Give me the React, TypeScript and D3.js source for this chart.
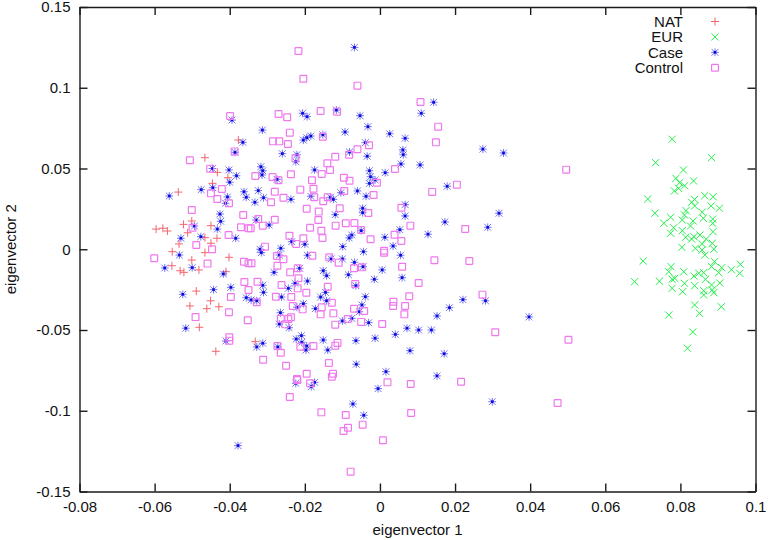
import { useEffect, useRef } from 'react';
import * as d3 from 'd3';

const xTicks = [-0.08, -0.06, -0.04, -0.02, 0, 0.02, 0.04, 0.06, 0.08, 0.1];
const yTicks = [-0.15, -0.1, -0.05, 0, 0.05, 0.1, 0.15];
const legendLabels = ['NAT', 'EUR', 'Case', 'Control'];

// [eigenvector 1, eigenvector 2]
const natPoints = [
  [-0.0466, 0.0567], [-0.0433, 0.0476], [-0.0405, 0.0443], [-0.0446, 0.0408], [-0.0537, 0.0354],
  [-0.0596, 0.0125], [-0.0578, 0.013], [-0.0566, 0.0113], [-0.0523, 0.0154], [-0.0501, 0.0175],
  [-0.0512, 0.0102], [-0.045, 0.0146], [-0.0466, 0.0072], [-0.0434, 0.0068], [-0.045, 0.0037],
  [-0.0535, 0.0033], [-0.0377, 0.0676], [-0.0553, -0.0015], [-0.0466, -0.0021], [-0.0402, -0.005],
  [-0.0501, -0.0067], [-0.0554, -0.0102], [-0.0532, -0.0133], [-0.0522, -0.0143], [-0.0482, -0.0128],
  [-0.041, -0.0139], [-0.0489, -0.0259], [-0.0451, -0.0319], [-0.0506, -0.0351], [-0.0461, -0.0368],
  [-0.0429, -0.0356], [-0.0481, -0.0483], [-0.0437, -0.0632], [-0.0332, -0.0572],
];

const eurPoints = [
  [0.0778, 0.0681], [0.0883, 0.0567], [0.0734, 0.0536], [0.0808, 0.0491], [0.0788, 0.0439],
  [0.0835, 0.0423], [0.0798, 0.0412], [0.0811, 0.0393], [0.0795, 0.0377], [0.0784, 0.0361],
  [0.0713, 0.0311], [0.0865, 0.0332], [0.0887, 0.0325], [0.0838, 0.0309], [0.083, 0.0291],
  [0.0838, 0.0268], [0.0882, 0.0268], [0.0904, 0.0254], [0.0732, 0.0223], [0.0815, 0.0239],
  [0.0858, 0.0229], [0.0811, 0.0212], [0.0774, 0.0198], [0.0805, 0.0181], [0.0861, 0.0192],
  [0.0886, 0.0187], [0.0834, 0.0175], [0.0756, 0.0161], [0.0827, 0.0144], [0.0886, 0.0161],
  [0.0782, 0.0133], [0.0805, 0.0115], [0.0774, 0.0099], [0.0887, 0.0109], [0.0852, 0.0088],
  [0.0836, 0.0078], [0.0814, 0.0074], [0.083, 0.0063], [0.0869, 0.0063], [0.0885, 0.0037],
  [0.0858, 0.0033], [0.0804, 0.0012], [0.084, 0.0006], [0.0889, 0], [0.0858, -0.0005],
  [0.0865, -0.0036], [0.0701, -0.0073], [0.0891, -0.0077], [0.0883, -0.0108], [0.0775, -0.0108],
  [0.091, -0.0114], [0.0936, -0.0127], [0.096, -0.0093], [0.0958, -0.0149], [0.0769, -0.0139],
  [0.0809, -0.0139], [0.0902, -0.0145], [0.0862, -0.0145], [0.0849, -0.0149], [0.0836, -0.0166],
  [0.0778, -0.0186], [0.0867, -0.0186], [0.0785, -0.018], [0.0678, -0.0201], [0.0744, -0.0198],
  [0.0811, -0.0211], [0.0905, -0.0209], [0.0838, -0.0226], [0.0883, -0.0221], [0.0778, -0.0242],
  [0.0885, -0.0252], [0.0806, -0.0263], [0.0862, -0.0257], [0.0889, -0.0269], [0.0862, -0.0283],
  [0.0838, -0.0345], [0.0909, -0.0356], [0.0851, -0.0397], [0.0769, -0.0407], [0.0833, -0.0512],
  [0.0819, -0.0613],
];

const casePoints = [
  [-0.0394, 0.08], [-0.0365, 0.0662], [-0.0386, 0.06], [-0.0446, 0.05], [-0.0402, 0.0491],
  [-0.0382, 0.0455], [-0.04, 0.0415], [-0.0476, 0.0369], [-0.0445, 0.0381], [-0.0561, 0.033],
  [-0.0406, 0.0324], [-0.0411, 0.0285], [-0.0362, 0.0356], [-0.0356, 0.0322], [-0.0426, 0.0218],
  [-0.0424, 0.0173], [-0.0433, 0.0125], [-0.0494, 0.0144], [-0.053, 0.0068], [-0.0477, 0.0078],
  [-0.0384, 0.0068], [-0.0534, -0.0036], [-0.0573, -0.0116], [-0.05, -0.0114], [-0.0417, -0.0153],
  [-0.0443, -0.025], [-0.0397, -0.0236], [-0.0525, -0.0279], [-0.0356, -0.03], [-0.0517, -0.0489],
  [-0.041, -0.0568], [-0.0313, 0.0738], [-0.0032, 0.0759], [0.0026, 0.0715], [0.0067, 0.0687],
  [-0.0093, 0.0726], [-0.0152, 0.0709], [-0.0184, 0.0701], [-0.0195, 0.0691], [-0.0204, 0.0676],
  [-0.0039, 0.066], [-0.026, 0.0592], [-0.0081, 0.0602], [-0.0034, 0.0576], [-0.0221, 0.0585],
  [-0.0224, 0.0542], [0.0061, 0.0615], [0.0062, 0.0585], [0.0056, 0.0528], [-0.0317, 0.0511],
  [-0.0312, 0.0486], [-0.0314, 0.046], [-0.0174, 0.0491], [-0.0028, 0.0486], [-0.0025, 0.0449],
  [0.0014, 0.0474], [-0.0013, 0.0429], [-0.0028, 0.0408], [-0.0274, 0.0433], [-0.0324, 0.0363],
  [-0.031, 0.0319], [-0.0333, 0.0291], [-0.0237, 0.0309], [-0.0184, 0.0328], [-0.006, 0.0361],
  [-0.0037, 0.0328], [-0.0104, 0.035], [-0.0132, 0.0322], [-0.0124, 0.0309], [0.0067, 0.0276],
  [0.0067, 0.0206], [-0.0046, 0.0254], [-0.0046, 0.0226], [-0.0119, 0.0214], [-0.033, 0.0181],
  [-0.0295, 0.015], [-0.005, 0.0115], [0.0053, 0.0121], [-0.0075, 0.0088], [-0.0082, 0.007],
  [0.0013, 0.0074], [-0.0235, 0.0047], [-0.02, 0.0031], [0.0035, 0.002], [-0.0099, 0.0016],
  [-0.0264, 0.0006], [-0.0319, 0], [0.0107, 0.0522], [-0.0316, -0.0021], [-0.0268, -0.0036],
  [-0.0193, -0.0037], [-0.013, -0.006], [-0.01, -0.006], [-0.0044, -0.0015], [-0.0068, -0.0081],
  [-0.0045, -0.0108], [0.0055, -0.0037], [-0.0151, -0.0133], [-0.0142, -0.0164], [-0.0084, -0.0158],
  [-0.0282, -0.0143], [-0.0214, -0.0118], [0.0006, -0.0128], [-0.0015, -0.0186], [0.0059, -0.0176],
  [-0.0193, -0.0197], [-0.0226, -0.0211], [-0.0244, -0.0242], [-0.0312, -0.0223], [-0.031, -0.0267],
  [-0.0064, -0.0226], [-0.0145, -0.0267], [-0.0262, -0.0296], [-0.0158, -0.0296], [-0.0142, -0.0319],
  [-0.0039, -0.0294], [-0.0048, -0.0345], [-0.0055, -0.0387], [-0.0075, -0.0428], [-0.01, -0.0444],
  [-0.003, -0.0455], [-0.0172, -0.0368], [-0.0204, -0.0337], [-0.0221, -0.0359], [-0.0328, -0.0319],
  [-0.0343, -0.0314], [-0.0265, -0.0393], [-0.0268, -0.0463], [-0.0242, -0.0486], [-0.0209, -0.0535],
  [-0.0223, -0.0556], [-0.0208, -0.0576], [-0.0195, -0.0599], [-0.0197, -0.0624], [-0.0151, -0.0562],
  [-0.0139, -0.0624], [-0.0064, -0.0566], [-0.0013, -0.0551], [0.0041, -0.0527], [0.0072, -0.0489],
  [0.0103, -0.05], [0.008, -0.0628], [-0.0328, -0.0605], [-0.0312, -0.0582], [-0.0272, -0.0605],
  [-0.0063, -0.0712], [0.0016, -0.0758], [-0.0224, -0.083], [-0.0174, -0.0824], [-0.0183, -0.0851],
  [-0.0005, -0.0863], [-0.0072, -0.0958], [-0.0043, -0.1028], [-0.0378, -0.1216], [0.0152, -0.0784],
  [-0.0068, 0.125], [0.0143, 0.091], [0.011, 0.0842], [-0.0206, 0.0842], [-0.0194, 0.0821],
  [-0.0116, 0.0862], [-0.0053, 0.0827], [0.0274, 0.062], [0.0329, 0.0596], [0.0179, 0.039],
  [0.0317, 0.0223], [0.0173, 0.0169], [0.0287, 0.0136], [0.0128, 0.0093], [0.0221, -0.0312],
  [0.0185, -0.0362], [0.0152, -0.0413], [0.0281, -0.0319], [0.0397, -0.0419], [0.0137, -0.05],
  [0.0171, -0.0647], [0.0299, -0.0944],
];

const controlPoints = [
  [-0.0506, 0.0551], [-0.0452, 0.0499], [-0.0387, 0.0606], [-0.0399, 0.0825], [-0.0421, 0.0373],
  [-0.045, 0.0346], [-0.0433, 0.0311], [-0.0402, 0.0285], [-0.0501, 0.0243], [-0.0364, 0.0212],
  [-0.037, 0.0136], [-0.035, 0.013], [-0.0499, 0.0133], [-0.0403, 0.0088], [-0.0489, 0.0026],
  [-0.0447, 0], [-0.0601, -0.0056], [-0.0459, -0.0089], [-0.0362, -0.0077], [-0.035, -0.0087],
  [-0.0361, -0.0203], [-0.035, -0.0252], [-0.0397, -0.0296], [-0.0402, -0.039], [-0.0491, -0.042],
  [-0.0352, -0.044], [-0.0401, -0.0545], [-0.0401, -0.0566], [-0.024, 0.0722], [-0.0285, 0.0668],
  [-0.0268, 0.0668], [-0.0245, 0.0652], [-0.0152, 0.0697], [-0.0029, 0.0644], [-0.006, 0.0619],
  [-0.0082, 0.0585], [-0.0119, 0.0573], [-0.014, 0.0532], [-0.0133, 0.0491], [-0.0155, 0.0466],
  [-0.0225, 0.0563], [-0.0237, 0.0464], [-0.0332, 0.0454], [-0.0286, 0.0447], [-0.027, 0.0427],
  [-0.0181, 0.0427], [-0.0096, 0.0443], [-0.0081, 0.0424], [0.004, 0.0497], [-0.0008, 0.0412],
  [-0.0212, 0.0369], [-0.0177, 0.0375], [-0.028, 0.0356], [-0.0095, 0.0361], [-0.0017, 0.0336],
  [-0.0257, 0.0319], [-0.0175, 0.0322], [-0.029, 0.0291], [-0.0151, 0.0297], [-0.0139, 0.0322],
  [-0.0107, 0.0254], [-0.0195, 0.0251], [-0.0163, 0.0233], [-0.0031, 0.0224], [0.0057, 0.0257],
  [-0.0164, 0.0181], [-0.028, 0.0183], [-0.0324, 0.0187], [-0.0312, 0.0146], [-0.0344, 0.013],
  [-0.0091, 0.0161], [-0.0068, 0.0163], [-0.0118, 0.0146], [0.0081, 0.0146], [-0.0186, 0.0133],
  [-0.0156, 0.0115], [-0.0153, 0.007], [-0.005, 0.0119], [-0.0025, 0.0062], [0.0039, 0.009],
  [0.0057, 0.0051], [-0.0241, 0.0084], [-0.0204, 0.0068], [-0.0223, 0.0033], [-0.0306, 0.0016],
  [0.0011, -0.0009], [-0.0274, -0.0042], [-0.0257, -0.0062], [-0.0273, -0.0102], [-0.018, -0.004],
  [-0.0135, -0.005], [-0.011, -0.0083], [0.0011, -0.0021], [0.0059, -0.0108], [-0.0069, -0.0118],
  [-0.0048, -0.0112], [-0.0219, -0.0118], [-0.0239, -0.0143], [-0.0217, -0.018], [-0.0342, -0.0087],
  [0.0103, -0.0209], [-0.0066, -0.0215], [-0.0139, -0.0232], [-0.0262, -0.0221], [-0.0219, -0.0242],
  [-0.0196, -0.0269], [-0.0326, -0.0201], [-0.0277, -0.0294], [-0.0236, -0.0296], [0.0078, -0.0291],
  [-0.0328, -0.0328], [-0.0232, -0.0351], [-0.0206, -0.0372], [-0.0128, -0.0331], [-0.0155, -0.0359],
  [-0.0158, -0.0403], [-0.0124, -0.0397], [-0.0069, -0.0368], [-0.0042, -0.0382], [0.0036, -0.0325],
  [0.0035, -0.0351], [0.0067, -0.0351], [0.0065, -0.0403], [-0.0237, -0.0421], [-0.0264, -0.043],
  [-0.0244, -0.0432], [-0.0252, -0.0465], [-0.0086, -0.0432], [-0.0119, -0.0467], [-0.005, -0.045],
  [0.0006, -0.0463], [-0.0273, -0.0599], [-0.0264, -0.0641], [-0.0212, -0.0603], [-0.0177, -0.0599],
  [-0.0113, -0.058], [-0.0119, -0.0597], [-0.0311, -0.0684], [-0.025, -0.0721], [-0.0136, -0.0704],
  [-0.0195, -0.0771], [-0.0125, -0.0771], [-0.0128, -0.0789], [-0.0221, -0.0803], [-0.022, -0.081],
  [-0.0186, -0.083], [0.002, -0.0824], [0.0082, -0.0834], [-0.024, -0.0915], [-0.0156, -0.101],
  [-0.0091, -0.1026], [-0.0046, -0.1086], [-0.0085, -0.1105], [-0.0097, -0.1125], [0.0083, -0.1014],
  [0.0008, -0.1183], [-0.0078, -0.1377], [-0.0217, 0.1228], [-0.0204, 0.1056], [-0.006, 0.1013],
  [0.0108, 0.0912], [-0.027, 0.0837], [-0.0247, 0.0817], [-0.0158, 0.0856], [-0.0114, 0.0852],
  [0.0155, 0.0759], [0.0149, 0.0662], [0.0496, 0.0493], [0.0205, 0.04], [0.0139, 0.0355],
  [0.0227, 0.0125], [0.0145, -0.0068], [0.0238, -0.0073], [0.0273, -0.0281], [0.0307, -0.0514],
  [0.0502, -0.056], [0.0216, -0.082], [0.0473, -0.0952],
];

const width = 768;
const height = 540;
const margin = { top: 7, right: 12.5, bottom: 48.5, left: 79.5 };
const font = '"Liberation Sans", Arial, sans-serif';
const fmt = (d: number) => String(+d.toFixed(2));

const natColor = '#f2666e';
const eurColor = '#22f04a';
const caseColor = '#3a3af0';
const controlColor = '#ef78ee';

function drawMark(g: any, kind: string) {
  if (kind === 'NAT') {
    g.append('path').attr('d', 'M-4,0H4M0,-4V4').attr('stroke', natColor).attr('stroke-width', 1).attr('fill', 'none');
  } else if (kind === 'EUR') {
    g.append('path').attr('d', 'M-3.6,-3.6L3.6,3.6M-3.6,3.6L3.6,-3.6').attr('stroke', eurColor).attr('stroke-width', 1).attr('fill', 'none');
  } else if (kind === 'Case') {
    g.append('path')
      .attr('d', 'M-3.4,-3.4L3.4,3.4M-3.4,3.4L3.4,-3.4M-3.9,0H3.9M0,-3.9V3.9')
      .attr('stroke', caseColor)
      .attr('stroke-opacity', 0.7)
      .attr('stroke-width', 1)
      .attr('fill', 'none');
    g.append('rect').attr('x', -1.3).attr('y', -1.3).attr('width', 2.6).attr('height', 2.6).attr('fill', '#0808e0');
  } else {
    g.append('rect')
      .attr('x', -3.4)
      .attr('y', -3.4)
      .attr('width', 6.8)
      .attr('height', 6.8)
      .attr('rx', 0.6)
      .attr('fill', 'none')
      .attr('stroke', controlColor)
      .attr('stroke-width', 1.2);
  }
}

export default function App() {
  const ref = useRef<SVGSVGElement>(null);

  useEffect(() => {
    const svg = d3.select(ref.current);
    svg.selectAll('*').remove();

    const x = d3.scaleLinear().domain([-0.08, 0.1]).range([margin.left, width - margin.right]);
    const y = d3.scaleLinear().domain([-0.15, 0.15]).range([height - margin.bottom, margin.top]);
    const tick = 8;

    const series: [string, number[][]][] = [
      ['NAT', natPoints],
      ['EUR', eurPoints],
      ['Case', casePoints],
      ['Control', controlPoints],
    ];

    series.forEach(([name, pts]) => {
      svg
        .append('g')
        .selectAll('g')
        .data(pts)
        .enter()
        .append('g')
        .attr('transform', d => `translate(${x(d[0])},${y(d[1])})`)
        .each(function () {
          drawMark(d3.select(this), name);
        });
    });

    const bottom = svg
      .append('g')
      .attr('transform', `translate(0,${height - margin.bottom})`)
      .call(d3.axisBottom(x).tickValues(xTicks).tickSize(-tick).tickSizeOuter(0).tickFormat(fmt as any));
    const left = svg
      .append('g')
      .attr('transform', `translate(${margin.left},0)`)
      .call(d3.axisLeft(y).tickValues(yTicks).tickSize(-tick).tickSizeOuter(0).tickPadding(9).tickFormat(fmt as any));
    const top = svg
      .append('g')
      .attr('transform', `translate(0,${margin.top})`)
      .call(d3.axisTop(x).tickValues(xTicks).tickSize(-tick).tickSizeOuter(0).tickFormat(() => ''));
    const right = svg
      .append('g')
      .attr('transform', `translate(${width - margin.right},0)`)
      .call(d3.axisRight(y).tickValues(yTicks).tickSize(-tick).tickSizeOuter(0).tickFormat(() => ''));

    [bottom, left, top, right].forEach(a => {
      a.selectAll('path,line').attr('stroke', '#1a1a1a').attr('stroke-width', 1.4);
      a.selectAll('text').attr('fill', '#111').style('font-family', font).style('font-size', '15px');
    });
    bottom.selectAll('text').attr('dy', '0.71em').attr('y', 10);

    svg
      .append('text')
      .attr('x', (margin.left + width - margin.right) / 2)
      .attr('y', 535)
      .attr('text-anchor', 'middle')
      .attr('fill', '#111')
      .style('font-family', font)
      .style('font-size', '15px')
      .text('eigenvector 1');
    svg
      .append('text')
      .attr('transform', `translate(16,${y(0)}) rotate(-90)`)
      .attr('text-anchor', 'middle')
      .attr('fill', '#111')
      .style('font-family', font)
      .style('font-size', '15px')
      .text('eigenvector 2');

    const legend = svg.append('g');
    legendLabels.forEach((label, i) => {
      const ly = 21.5 + i * 15.4;
      legend
        .append('text')
        .attr('x', 683)
        .attr('y', ly)
        .attr('dy', '0.35em')
        .attr('text-anchor', 'end')
        .attr('fill', '#111')
        .style('font-family', font)
        .style('font-size', '15px')
        .text(label);
      const m = legend.append('g').attr('transform', `translate(715,${ly})`);
      drawMark(m, label);
    });
  }, []);

  return (
    <svg
      ref={ref}
      width={width}
      height={height}
      viewBox={`0 0 ${width} ${height}`}
      style={{ position: 'absolute', left: 0, top: 0, display: 'block', background: '#fff' }}
    />
  );
}
